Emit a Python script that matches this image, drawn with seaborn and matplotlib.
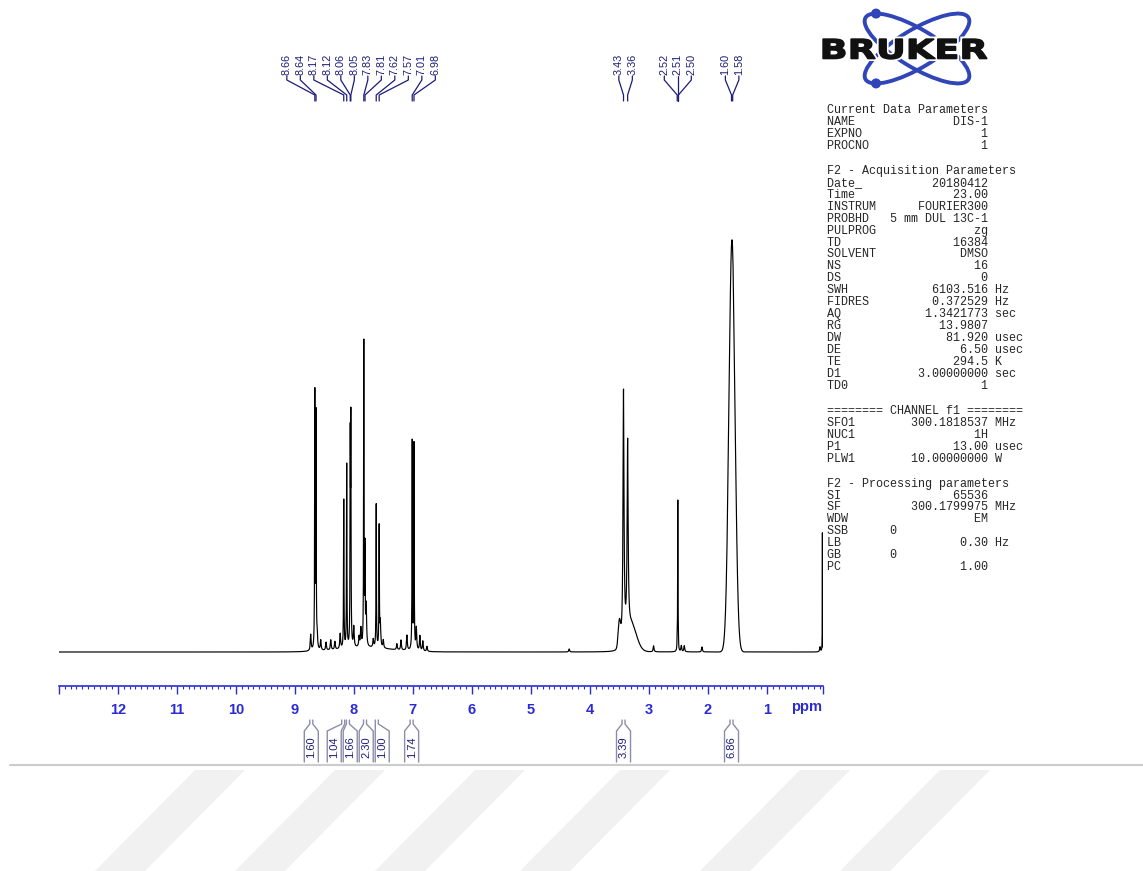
import numpy as np
import pandas as pd
import matplotlib
matplotlib.use("Agg")
import matplotlib.pyplot as plt
import seaborn as sns
from matplotlib.patches import Ellipse, Circle, PathPatch, Polygon
from matplotlib.textpath import TextPath
from matplotlib.font_manager import FontProperties
from matplotlib.transforms import Affine2D
from matplotlib.ticker import FixedLocator

# ---------------- data ----------------
# sharp (Lorentzian) lines: shift (ppm), height, half-width (ppm)
line_ppm = [8.66, 8.64, 8.17, 8.12, 8.06, 8.05, 7.83, 7.81, 7.62, 7.57, 7.01, 6.98,
            3.43, 3.36, 2.52, 2.51, 2.50, 0.06]
line_height = [254, 232, 148, 183, 195, 213, 303, 92, 143, 120, 208, 205,
               250, 188, 12, 150, 10, 119]
line_hwhm = [0.004] * 12 + [0.010, 0.010, 0.003, 0.003, 0.003, 0.002]

# small multiplet / impurity lines
minor_ppm = [8.73, 8.62, 8.56, 8.47, 8.39, 8.32, 8.23, 8.00, 7.91, 7.88, 7.79, 7.67,
             7.55, 7.50, 7.27, 7.20, 7.10, 6.94, 6.88, 6.83, 6.76, 4.35, 2.92, 2.45,
             2.40, 2.10, 0.10]
minor_height = [16, 12, 10, 8, 10, 8, 15, 20, 10, 18, 40, 8,
                25, 8, 6, 10, 15, 22, 15, 10, 5, 3, 6, 6,
                6, 5, 5]

# broad (Gaussian) components: water, hump under 3.4 ppm, shoulders
broad_ppm = [1.60, 1.58, 3.30, 3.50, 7.80]
broad_height = [260, 160, 26, 25, 4]
broad_sigma = [0.05, 0.05, 0.09, 0.02, 0.45]

# peak picking labels and their groups
peak_labels = [8.66, 8.64, 8.17, 8.12, 8.06, 8.05, 7.83, 7.81, 7.62, 7.57, 7.01, 6.98,
               3.43, 3.36, 2.52, 2.51, 2.50, 1.60, 1.58]
peak_group = [0] * 12 + [1, 1] + [2, 2, 2] + [3, 3]

# integrals
integral_values = [1.60, 1.04, 1.66, 2.30, 1.00, 1.74, 3.39, 6.86]
integral_ppm = [8.72, 8.18, 8.10, 7.81, 7.61, 7.02, 3.43, 1.60]

axis_labels = ["12", "11", "10", "9", "8", "7", "6", "5", "4", "3", "2", "1"]

# acquisition / processing parameters
sec1_title = "Current Data Parameters"
sec1_names = ["NAME", "EXPNO", "PROCNO"]
sec1_values = ["DIS-1", "1", "1"]
sec1_units = ["", "", ""]

sec2_title = "F2 - Acquisition Parameters"
sec2_names = ["Date_", "Time", "INSTRUM", "PROBHD", "PULPROG", "TD", "SOLVENT", "NS", "DS",
              "SWH", "FIDRES", "AQ", "RG", "DW", "DE", "TE", "D1", "TD0"]
sec2_values = ["20180412", "23.00", "FOURIER300", "5 mm DUL 13C-1", "zg", "16384", "DMSO",
               "16", "0", "6103.516", "0.372529", "1.3421773", "13.9807", "81.920", "6.50",
               "294.5", "3.00000000", "1"]
sec2_units = ["", "", "", "", "", "", "", "", "", "Hz", "Hz", "sec", "", "usec", "usec",
              "K", "sec", ""]

sec3_title = "======== CHANNEL f1 ========"
sec3_names = ["SFO1", "NUC1", "P1", "PLW1"]
sec3_values = ["300.1818537", "1H", "13.00", "10.00000000"]
sec3_units = ["MHz", "", "usec", "W"]

sec4_title = "F2 - Processing parameters"
sec4_names = ["SI", "SF", "WDW", "SSB", "LB", "GB", "PC"]
sec4_values = ["65536", "300.1799975", "EM", "0", "0.30", "0", "1.00"]
sec4_units = ["", "MHz", "", "", "Hz", "", ""]

# ---------------- style ----------------
sns.set_theme(style="white")
plt.rcParams['font.family'] = ['Liberation Sans', 'DejaVu Sans']

BLUE = '#2b2bd6'
NAVY = '#1c1c78'
W, H = 1143, 871
X0, X1 = 58.7, 823.0
Y_AX = 686.0
Y_BASE = 652.0
PPM_L, PPM_R = 13.0, 0.05

fig = plt.figure(figsize=(W / 100, H / 100), dpi=100)
fig.patch.set_facecolor('white')

ax = fig.add_axes([X0 / W, (H - Y_AX) / H, (X1 - X0) / W, Y_AX / H])
ax.patch.set_alpha(0)

# ---------------- spectrum ----------------
ppm = np.round(np.arange(PPM_R, PPM_L + 1e-9, 0.001), 3)
inten = np.zeros_like(ppm)
for c, h, w in zip(line_ppm, line_height, line_hwhm):
    inten += h / (1 + ((ppm - c) / w) ** 2)
for c, h in zip(minor_ppm, minor_height):
    inten += h / (1 + ((ppm - c) / 0.008) ** 2)
for c, h, s in zip(broad_ppm, broad_height, broad_sigma):
    inten += h * np.exp(-0.5 * ((ppm - c) / s) ** 2)
df = pd.DataFrame({'ppm': ppm, 'intensity': inten})
sns.lineplot(data=df, x='ppm', y='intensity', ax=ax, color='black', lw=0.85,
             estimator=None)

ax.set_xlim(PPM_L, PPM_R)
ax.set_ylim(Y_BASE - Y_AX, Y_BASE)
ax.set_xlabel('')
ax.set_ylabel('')
ax.set_yticks([])
for s in ['top', 'left', 'right']:
    ax.spines[s].set_visible(False)
ax.spines['bottom'].set_color(BLUE)
ax.spines['bottom'].set_linewidth(1.2)

major_pos = [13.0] + [float(v) for v in axis_labels] + [PPM_R]
ax.xaxis.set_major_locator(FixedLocator(major_pos))
ax.set_xticklabels([''] + axis_labels + [''])
ax.xaxis.set_minor_locator(FixedLocator(np.round(np.arange(0.1, 13.0, 0.1), 1)))
ax.tick_params(axis='x', which='major', bottom=True, direction='out', length=6, width=1,
               color=BLUE, labelcolor=BLUE, labelsize=10.5, pad=6)
ax.tick_params(axis='x', which='minor', bottom=True, direction='out', length=2.5, width=0.8,
               color=BLUE)
for t in ax.get_xticklabels():
    t.set_fontweight('bold')

# ---------------- overlay (pixel coordinates) ----------------
ov = fig.add_axes([0, 0, 1, 1], zorder=5)
ov.set_xlim(0, W)
ov.set_ylim(H, 0)
ov.axis('off')
ov.patch.set_alpha(0)


def px(p):
    return X0 + (PPM_L - p) / (PPM_L - PPM_R) * (X1 - X0)


ov.text(807, 707, 'ppm', ha='center', va='center', fontsize=10.5, fontweight='bold',
        color=BLUE)

# peak labels with leader lines
label_gap = 13.5
for g in sorted(set(peak_group)):
    idx = [i for i, gg in enumerate(peak_group) if gg == g]
    ppx = [px(peak_labels[i]) for i in idx]
    center = np.mean(ppx)
    n = len(idx)
    lxs = center + (np.arange(n) - (n - 1) / 2) * label_gap
    for lx, pp, i in zip(lxs, ppx, idx):
        ov.text(lx, 75, f"{peak_labels[i]:.2f}", rotation=90, ha='center', va='bottom',
                fontsize=7.8, color=NAVY)
        ov.plot([lx, lx, pp, pp], [76, 80, 95, 101], color=NAVY, lw=0.9)

# integral labels (spread to avoid overlap)
notch = [px(p) for p in integral_ppm]
lab = list(notch)
gap = 16
for _ in range(300):
    for i in range(len(lab) - 1):
        d = lab[i + 1] - lab[i]
        if d < gap:
            sh = (gap - d) / 2
            lab[i] -= sh
            lab[i + 1] += sh
for v, nx, lx in zip(integral_values, notch, lab):
    ov.plot([nx - 1.5, nx - 1.5, lx - 7, lx - 7], [720, 724, 731, 762], color='#8c8cab', lw=1)
    ov.plot([nx + 1.5, nx + 1.5, lx + 7, lx + 7], [720, 724, 731, 762], color='#8c8cab', lw=1)
    ov.text(lx, 747, f"{v:.2f}", rotation=90, ha='center', va='center', fontsize=8,
            color=NAVY)

# separator and watermark
ov.plot([10, W], [765, 765], color='#cccccc', lw=1.5)
for b in [95, 235, 375, 520, 700, 840]:
    ov.add_patch(Polygon([[b, 871], [b + 50, 871], [b + 150, 770], [b + 100, 770]],
                         closed=True, fc='#f1f1f1', ec='none', zorder=0))

# parameters text
mono = dict(family=['Liberation Mono', 'DejaVu Sans Mono'], fontsize=8.5, color='#262626')
rows = []
for title, names, values, units in [(sec1_title, sec1_names, sec1_values, sec1_units),
                                    (sec2_title, sec2_names, sec2_values, sec2_units),
                                    (sec3_title, sec3_names, sec3_values, sec3_units),
                                    (sec4_title, sec4_names, sec4_values, sec4_units)]:
    sec = [title]
    for nme, val, un in zip(names, values, units):
        if nme in ('SSB', 'GB'):
            s = f"{nme:<9}{val:<14}"
        else:
            s = f"{nme:<9}{val:>14}"
        if un:
            s += " " + un
        sec.append(s)
    rows.append(sec)
y = 110.0
step = 11.95
for sec in rows:
    for s in sec:
        ov.text(826.7, y, s, ha='left', va='center', **mono)
        y += step
    y += 13.0

# Bruker logo
cx, cy, a, b, th = 917.0, 48.5, 60, 19, 31
logo_blue = '#3045b8'
for ang in (th, -th):
    ov.add_patch(Ellipse((cx, cy), 2 * a, 2 * b, angle=ang, fill=False, ec=logo_blue, lw=2.8))
for ang, sgn in ((th, -1), (-th, 1)):
    r = np.radians(ang)
    t = np.linspace(0, 2 * np.pi, 3600)
    xs = cx + a * np.cos(t) * np.cos(r) - b * np.sin(t) * np.sin(r)
    ys = cy + a * np.cos(t) * np.sin(r) + b * np.sin(t) * np.cos(r)
    k = np.argmin(ys) if sgn < 0 else np.argmax(ys)
    ov.add_patch(Circle((xs[k], ys[k]), 5, fc=logo_blue, ec='none'))
tp = TextPath((0, 0), "BRUKER", size=20, prop=FontProperties(family='DejaVu Sans', weight='bold'))
ext = tp.get_extents()
sx = (987 - 823) / ext.width
sy = (59 - 39) / ext.height
tr = Affine2D().translate(-ext.x0, -ext.y0).scale(sx, -sy).translate(823, 59)
path = tr.transform_path(tp)
ov.add_patch(PathPatch(path, fc='white', ec='white', lw=3.5, zorder=6))
ov.add_patch(PathPatch(path, fc='#111111', ec='#111111', lw=1.0, zorder=7))

fig.savefig('out.png', dpi=100, facecolor='white')
